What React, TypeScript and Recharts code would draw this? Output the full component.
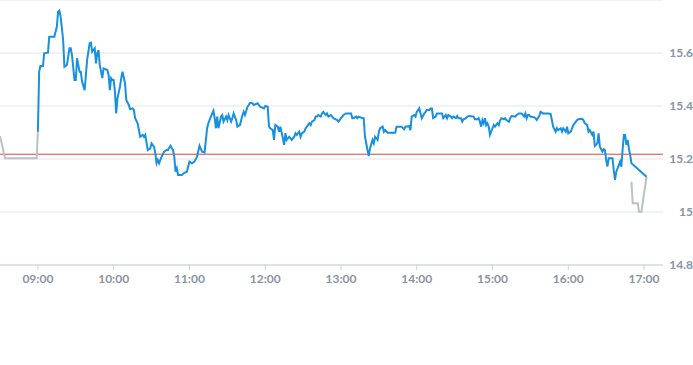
import React from "react";
import { LineChart, Line, XAxis, YAxis, CartesianGrid, ReferenceLine } from "recharts";

const sessionTimes = [
  "09:00","09:01","09:02","09:04","09:05","09:08","09:09","09:13","09:15","09:16","09:17","09:18","09:20","09:21","09:23","09:25","09:26","09:27","09:29","09:30",
  "09:31","09:32","09:33","09:34","09:35","09:37","09:39","09:41","09:42","09:43","09:45","09:46","09:47","09:48","09:49","09:51","09:52","09:55","09:56","09:57",
  "09:58","09:59","10:00","10:01","10:02","10:03","10:05","10:06","10:07","10:09","10:10","10:12","10:13","10:15","10:16","10:17","10:19","10:21","10:23","10:24",
  "10:25","10:27","10:29","10:30","10:32","10:33","10:34","10:35","10:36","10:38","10:40","10:42","10:43","10:45","10:47","10:48","10:49","10:50","10:51","10:54",
  "10:56","10:58","11:00","11:02","11:04","11:06","11:08","11:10","11:12","11:14","11:15","11:17","11:19","11:20","11:21","11:22","11:23","11:25","11:26","11:27",
  "11:29","11:30","11:31","11:33","11:34","11:35","11:37","11:38","11:40","11:42","11:43","11:44","11:46","11:47","11:48","11:50","11:51","11:54","11:56","11:59",
  "12:00","12:02","12:03","12:04","12:06","12:07","12:08","12:10","12:11","12:12","12:14","12:15","12:16","12:17","12:19","12:20","12:21","12:23","12:24","12:25",
  "12:27","12:28","12:29","12:31","12:32","12:33","12:35","12:36","12:37","12:39","12:40","12:41","12:42","12:44","12:45","12:46","12:48","12:49","12:50","12:52",
  "12:53","12:54","12:57","12:58","13:00","13:01","13:02","13:04","13:08","13:09","13:10","13:12","13:13","13:14","13:17","13:18","13:19","13:21","13:22","13:23",
  "13:25","13:26","13:27","13:29","13:30","13:31","13:33","13:34","13:35","13:37","13:42","13:43","13:44","13:48","13:50","13:51","13:54","13:55","13:56","13:58",
  "13:59","14:00","14:02","14:03","14:04","14:06","14:07","14:08","14:10","14:11","14:12","14:13","14:15","14:16","14:19","14:20","14:21","14:23","14:24","14:25",
  "14:27","14:28","14:29","14:31","14:32","14:33","14:35","14:36","14:37","14:39","14:40","14:42","14:45","14:46","14:48","14:49","14:50","14:51","14:52","14:53",
  "14:54","14:55","14:56","14:57","14:58","15:00","15:01","15:02","15:04","15:05","15:06","15:07","15:09","15:10","15:11","15:13","15:14","15:15","15:18","15:19",
  "15:21","15:23","15:25","15:26","15:27","15:28","15:29","15:30","15:33","15:34","15:35","15:37","15:38","15:39","15:40","15:44","15:46","15:47","15:48","15:50",
  "15:51","15:52","15:54","15:55","15:56","15:58","15:59","16:00","16:02","16:03","16:04","16:06","16:07","16:08","16:11","16:12","16:13","16:15","16:16","16:17",
  "16:19","16:20","16:21","16:23","16:24","16:25","16:27","16:28","16:29","16:30","16:31","16:32","16:35","16:36","16:37","16:38","16:40","16:41","16:42","16:43",
  "16:44","16:45","16:46","16:47","16:48","16:49","16:50","17:02"
];

const sessionPrices = [
  15.303,15.529,15.551,15.551,15.599,15.601,15.661,15.661,15.699,15.756,15.760,15.737,15.649,15.548,15.555,15.618,15.618,15.592,15.498,15.498,
  15.580,15.555,15.529,15.529,15.492,15.460,15.574,15.637,15.639,15.605,15.618,15.561,15.599,15.611,15.555,15.505,15.542,15.536,15.517,15.460,
  15.505,15.498,15.498,15.454,15.372,15.429,15.473,15.505,15.529,15.486,15.423,15.404,15.388,15.391,15.385,15.354,15.335,15.284,15.291,15.284,
  15.291,15.234,15.240,15.259,15.246,15.221,15.184,15.196,15.184,15.209,15.228,15.234,15.234,15.250,15.234,15.209,15.152,15.165,15.140,15.140,
  15.148,15.152,15.190,15.184,15.190,15.209,15.250,15.228,15.225,15.316,15.335,15.360,15.382,15.354,15.316,15.360,15.316,15.360,15.366,15.341,
  15.360,15.347,15.366,15.341,15.354,15.372,15.347,15.322,15.328,15.366,15.378,15.366,15.397,15.404,15.412,15.410,15.404,15.410,15.397,15.391,
  15.400,15.397,15.322,15.316,15.309,15.272,15.328,15.322,15.303,15.322,15.278,15.253,15.297,15.272,15.284,15.278,15.272,15.284,15.297,15.291,
  15.303,15.284,15.297,15.303,15.316,15.322,15.335,15.328,15.341,15.347,15.360,15.360,15.366,15.360,15.372,15.378,15.366,15.372,15.360,15.366,
  15.360,15.354,15.347,15.341,15.354,15.360,15.366,15.372,15.372,15.354,15.354,15.360,15.354,15.360,15.354,15.354,15.284,15.234,15.211,15.240,
  15.272,15.259,15.284,15.272,15.303,15.316,15.322,15.303,15.309,15.299,15.299,15.299,15.322,15.322,15.312,15.322,15.324,15.309,15.360,15.366,
  15.360,15.378,15.391,15.372,15.354,15.372,15.378,15.385,15.385,15.391,15.391,15.354,15.360,15.372,15.372,15.372,15.354,15.366,15.354,15.366,
  15.360,15.354,15.360,15.354,15.362,15.354,15.354,15.341,15.350,15.354,15.360,15.362,15.360,15.350,15.350,15.354,15.341,15.322,15.347,15.335,
  15.354,15.328,15.335,15.322,15.291,15.316,15.328,15.322,15.335,15.328,15.345,15.354,15.350,15.354,15.347,15.341,15.354,15.362,15.360,15.366,
  15.372,15.372,15.360,15.372,15.354,15.366,15.366,15.360,15.357,15.354,15.347,15.362,15.378,15.375,15.372,15.372,15.370,15.347,15.322,15.303,
  15.316,15.309,15.316,15.303,15.316,15.303,15.322,15.297,15.303,15.316,15.328,15.341,15.347,15.350,15.352,15.347,15.335,15.328,15.303,15.309,
  15.291,15.303,15.249,15.259,15.297,15.246,15.228,15.237,15.234,15.196,15.171,15.203,15.203,15.158,15.121,15.152,15.177,15.190,15.171,15.234,
  15.291,15.291,15.253,15.272,15.240,15.215,15.184,15.133
];

const preTimes = ["08:30", "08:34", "08:59", "09:00"];
const prePrices = [15.287, 15.203, 15.203, 15.303];

const postTimes = ["16:50", "16:51", "16:55", "16:56", "16:58", "16:59", "17:02"];
const postPrices = [15.114, 15.033, 15.033, 15.001, 15.001, 15.039, 15.133];

const previousClose = 15.218;

const xTickLabels = ["09:00", "10:00", "11:00", "12:00", "13:00", "14:00", "15:00", "16:00", "17:00"];
const yTickValues = [14.8, 15, 15.2, 15.4, 15.6];
const xDomainLabels = ["08:30", "17:15"];
const yDomain = [14.8, 15.8];

const toMin = (s: string) => {
  const [h, m] = s.split(":").map(Number);
  return h * 60 + m;
};
const fmt = (v: number) => {
  const h = Math.floor(v / 60);
  const m = v % 60;
  return `${String(h).padStart(2, "0")}:${String(m).padStart(2, "0")}`;
};

// merge the three series into one table keyed by minute
const rowsMap = new Map<number, any>();
const addSeries = (key: string, times: string[], prices: number[]) => {
  times.forEach((t, i) => {
    const m = toMin(t);
    const row = rowsMap.get(m) || { t: m };
    row[key] = prices[i];
    rowsMap.set(m, row);
  });
};
addSeries("pre", preTimes, prePrices);
addSeries("session", sessionTimes, sessionPrices);
addSeries("post", postTimes, postPrices);
const chartData = Array.from(rowsMap.values()).sort((a, b) => a.t - b.t);

const textColor = "#8a94a4";
const fontFamily = "Lato, 'Open Sans', sans-serif";

const YTick = (props: any) => {
  const { y, payload } = props;
  return (
    <text x={693} y={y} dy={4} textAnchor="end" fill={textColor} fontSize={12} fontWeight={700} fontFamily={fontFamily}>
      {String(payload.value)}
    </text>
  );
};

export default function App() {
  return (
    <div style={{ position: "absolute", left: 0, top: 0, width: 693, height: 365, background: "#fff" }}>
      <LineChart width={693} height={300} data={chartData} margin={{ top: 0, right: 0, bottom: 0, left: 0 }}>
        <CartesianGrid vertical={false} stroke="#e1e5ea" />
        <XAxis
          type="number"
          dataKey="t"
          domain={[toMin(xDomainLabels[0]), toMin(xDomainLabels[1])]}
          ticks={xTickLabels.map(toMin)}
          tickFormatter={fmt}
          allowDataOverflow
          height={35}
          stroke="#cdd3da"
          tickSize={5}
          tickMargin={4}
          tick={{ fill: textColor, fontSize: 12, fontWeight: 700, fontFamily }}
        />
        <YAxis
          type="number"
          orientation="right"
          domain={yDomain}
          ticks={yTickValues}
          allowDataOverflow
          axisLine={false}
          tickLine={false}
          width={30}
          tick={<YTick />}
        />
        <ReferenceLine y={previousClose} stroke="#e0403f" strokeWidth={1} />
        <Line dataKey="pre" type="linear" stroke="#b9c1ca" strokeWidth={2} dot={false} activeDot={false} connectNulls isAnimationActive={false} />
        <Line dataKey="post" type="linear" stroke="#b9c1ca" strokeWidth={2} dot={false} activeDot={false} connectNulls isAnimationActive={false} />
        <Line dataKey="session" type="linear" stroke="#1890e0" strokeWidth={2} dot={false} activeDot={false} connectNulls isAnimationActive={false} />
      </LineChart>
    </div>
  );
}
